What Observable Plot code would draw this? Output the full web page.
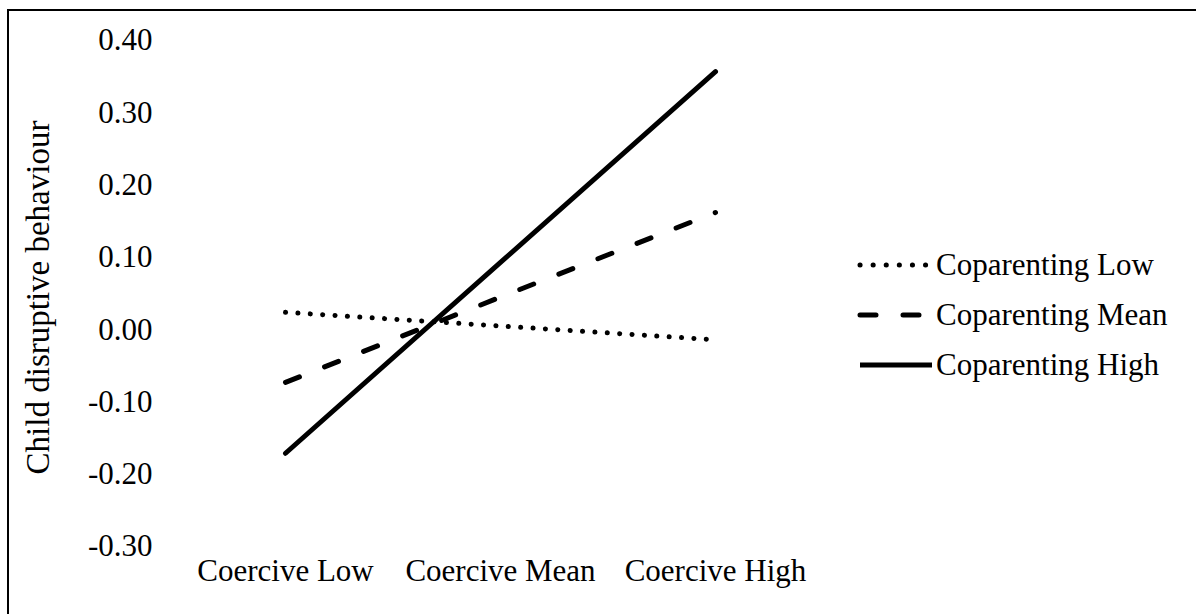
<!DOCTYPE html>
<html>
<head>
<meta charset="utf-8">
<script src="https://cdn.jsdelivr.net/npm/d3@7"></script>
<script src="https://cdn.jsdelivr.net/npm/@observablehq/plot@0.6"></script>
<style>
  html, body { margin: 0; padding: 0; background: #fff; overflow: hidden; }
  body { width: 1196px; height: 614px; position: relative; font-family: "Liberation Serif", "Times New Roman", serif; }
  #frame { position: absolute; left: 7px; top: 9px; width: 1400px; height: 800px; border-left: 2px solid #000; border-top: 2px solid #000; }
  #chart { position: absolute; left: 0; top: 0; }
  #legend { position: absolute; left: 857px; top: 240px; }
  .item { display: flex; align-items: center; height: 50px; font-size: 31px; color: #000; }
  .item svg { margin-right: 3px; }
</style>
</head>
<body>
<div id="frame"></div>
<div id="chart"></div>
<div id="legend"></div>
<script>
const categories = ["Coercive Low", "Coercive Mean", "Coercive High"];
const seriesNames = ["Coparenting Low", "Coparenting Mean", "Coparenting High"];
const coparentingLow = [0.024, 0.005, -0.014];
const coparentingMean = [-0.073, 0.045, 0.162];
const coparentingHigh = [-0.171, 0.093, 0.357];
const yTicks = [0.40, 0.30, 0.20, 0.10, 0.00, -0.10, -0.20, -0.30];
const yLabel = "Child disruptive behaviour";

const seriesValues = [coparentingLow, coparentingMean, coparentingHigh];
const data = seriesNames.flatMap((s, i) =>
  categories.map((c, j) => ({series: s, category: c, value: seriesValues[i][j]}))
);

const dashes = {
  "Coparenting Low": "0.1,12.3",
  "Coparenting Mean": "15,27",
  "Coparenting High": null
};

const font = '"Liberation Serif", "Times New Roman", serif';

const plot = Plot.plot({
  width: 1196,
  height: 614,
  marginTop: 40,
  marginBottom: 68,
  marginLeft: 285,
  marginRight: 481,
  style: {fontFamily: font, fontSize: "31px", color: "#000", background: "transparent", overflow: "visible"},
  x: {type: "point", domain: categories, padding: 0},
  y: {domain: [-0.30, 0.40]},
  marks: [
    Plot.axisY({ticks: yTicks, tickFormat: d => d.toFixed(2), tickSize: 0, tickPadding: 133, label: null, fontSize: 31}),
    Plot.axisX({tickSize: 0, tickPadding: 12, label: null, fontSize: 31}),
    Plot.text([yLabel], {frameAnchor: "left", dx: -247, dy: 4, rotate: -90, text: d => d, fontSize: 33, textAnchor: "middle", lineAnchor: "middle"}),
    ...seriesNames.map(s =>
      Plot.line(data.filter(d => d.series === s), {
        x: "category", y: "value",
        stroke: "#000", strokeWidth: 5,
        strokeLinecap: "round", strokeLinejoin: "round",
        strokeDasharray: dashes[s]
      })
    )
  ]
});
document.getElementById("chart").appendChild(plot);

// Legend
const legend = d3.select("#legend");
seriesNames.forEach(s => {
  const item = legend.append("div").attr("class", "item");
  const svg = item.append("svg").attr("width", 76).attr("height", 12);
  svg.append("line")
    .attr("x1", 3).attr("x2", s === "Coparenting High" ? 75 : 72)
    .attr("y1", 6).attr("y2", 6)
    .attr("stroke", "#000").attr("stroke-width", 5)
    .attr("stroke-linecap", s === "Coparenting High" ? "butt" : "round")
    .attr("stroke-dasharray", s === "Coparenting Low" ? "0.1,13" : s === "Coparenting Mean" ? "16,27" : null);
  item.append("span").text(s);
});
</script>
</body>
</html>
